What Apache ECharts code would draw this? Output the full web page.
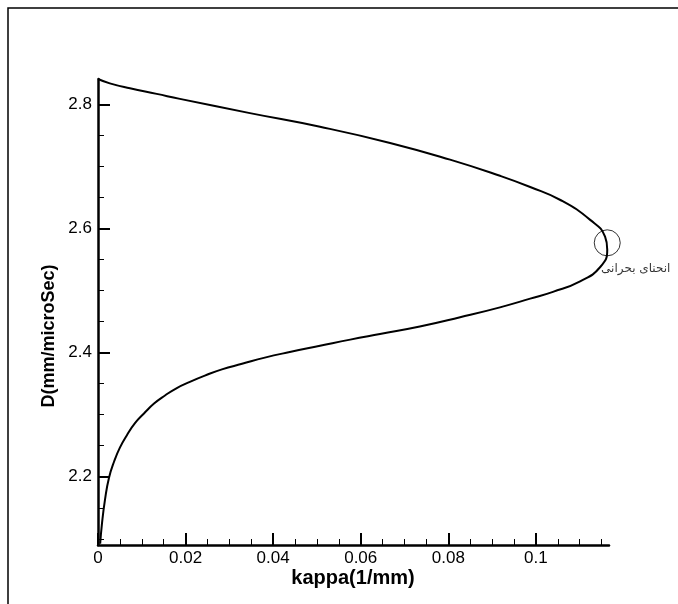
<!DOCTYPE html>
<html>
<head>
<meta charset="utf-8">
<script src="https://cdn.jsdelivr.net/npm/echarts@6/dist/echarts.min.js"></script>
<style>html,body{margin:0;padding:0;background:#fff}#c{width:678px;height:604px}</style>
</head>
<body>
<div id="c"></div>
<script>
// ---- data ----
const kappa = [0, 0.0027, 0.0073, 0.0134, 0.0187, 0.0347, 0.0507, 0.0667, 0.0804, 0.0918, 0.0987, 0.1056, 0.1124, 0.1158, 0.1163,
  0.1147, 0.1101, 0.1039, 0.0987, 0.0918, 0.0827, 0.0735, 0.0644, 0.0576, 0.0507, 0.0438, 0.0381, 0.0329, 0.0283, 0.0244, 0.0210,
  0.0180, 0.0153, 0.0128, 0.0105, 0.0084, 0.0066, 0.0050, 0.0037, 0.0025, 0.0016, 0.0009, 0.0005];
const D = [2.841, 2.834, 2.826, 2.817, 2.809, 2.786, 2.764, 2.738, 2.711, 2.685, 2.667, 2.646, 2.614, 2.587, 2.566,
  2.538, 2.515, 2.498, 2.487, 2.473, 2.457, 2.442, 2.430, 2.421, 2.411, 2.401, 2.392, 2.382, 2.373, 2.363, 2.353,
  2.343, 2.331, 2.318, 2.302, 2.286, 2.267, 2.247, 2.225, 2.198, 2.163, 2.124, 2.092];
const criticalPoint = [0.1163, 2.577];
const criticalLabel = 'انحنای بحرانی';
const xTickLabels = [0, 0.02, 0.04, 0.06, 0.08, 0.1];
const xMinorTicks = [0.005, 0.01, 0.015, 0.025, 0.03, 0.035, 0.045, 0.05, 0.055, 0.065, 0.07, 0.075, 0.085, 0.09, 0.095, 0.105, 0.11, 0.115];
const yTickLabels = [2.2, 2.4, 2.6, 2.8];
const yMinorTicks = [2.1, 2.15, 2.25, 2.3, 2.35, 2.45, 2.5, 2.55, 2.65, 2.7, 2.75];
const xTitle = 'kappa(1/mm)';
const yTitle = 'D(mm/microSec)';
const xRange = [0, 0.1167];
const yRange = [2.09, 2.841];

const font = 'Liberation Sans, Arial, sans-serif';
const chart = echarts.init(document.getElementById('c'));
const baseX = {type: 'value', min: xRange[0], max: xRange[1], splitLine: {show: false}, gridIndex: 0, position: 'bottom'};
const baseY = {type: 'value', min: yRange[0], max: yRange[1], splitLine: {show: false}, gridIndex: 0, position: 'left'};
chart.setOption({
  animation: false,
  backgroundColor: '#fff',
  grid: {left: 98, right: 69, top: 79, bottom: 59},
  xAxis: [
    Object.assign({}, baseX, {
      axisLine: {lineStyle: {color: '#000', width: 2.5}},
      axisTick: {inside: true, length: 12, lineStyle: {color: '#000', width: 2}, customValues: xTickLabels},
      axisLabel: {color: '#000', fontSize: 17, fontFamily: font, margin: 5, customValues: xTickLabels}
    }),
    Object.assign({}, baseX, {
      axisLine: {show: false},
      axisTick: {inside: true, length: 6, lineStyle: {color: '#000', width: 1}, customValues: xMinorTicks},
      axisLabel: {show: false}
    })
  ],
  yAxis: [
    Object.assign({}, baseY, {
      axisLine: {lineStyle: {color: '#000', width: 2.5}},
      axisTick: {inside: true, length: 12, lineStyle: {color: '#000', width: 2}, customValues: yTickLabels},
      axisLabel: {color: '#000', fontSize: 17, fontFamily: font, margin: 6, customValues: yTickLabels}
    }),
    Object.assign({}, baseY, {
      axisLine: {show: false},
      axisTick: {inside: true, length: 6, lineStyle: {color: '#000', width: 1}, customValues: yMinorTicks},
      axisLabel: {show: false}
    })
  ],
  graphic: [
    {type: 'rect', shape: {x: 8, y: 8, width: 900, height: 900}, style: {fill: 'none', stroke: '#000', lineWidth: 1.5}, silent: true},
    {type: 'text', x: 353, y: 578, style: {text: xTitle, font: 'bold 20px ' + font, fill: '#000', align: 'center', verticalAlign: 'middle'}},
    {type: 'text', x: 49, y: 336, rotation: Math.PI / 2, style: {text: yTitle, font: 'bold 18px ' + font, fill: '#000', align: 'center', verticalAlign: 'middle'}}
  ],
  series: [
    {
      type: 'line', xAxisIndex: 0, yAxisIndex: 0,
      data: kappa.map((k, i) => [k, D[i]]),
      showSymbol: false, smooth: 0.5,
      lineStyle: {color: '#000', width: 2}
    },
    {
      type: 'scatter', xAxisIndex: 0, yAxisIndex: 0,
      data: [criticalPoint],
      symbol: 'circle', symbolSize: 26,
      itemStyle: {color: 'rgba(0,0,0,0)', borderColor: '#000', borderWidth: 1},
      label: {show: true, formatter: criticalLabel, position: [42, 40], align: 'center', verticalAlign: 'middle',
        fontSize: 12, fontFamily: 'DejaVu Sans, Noto Sans, sans-serif', color: '#000'}
    }
  ]
});
</script>
</body>
</html>
